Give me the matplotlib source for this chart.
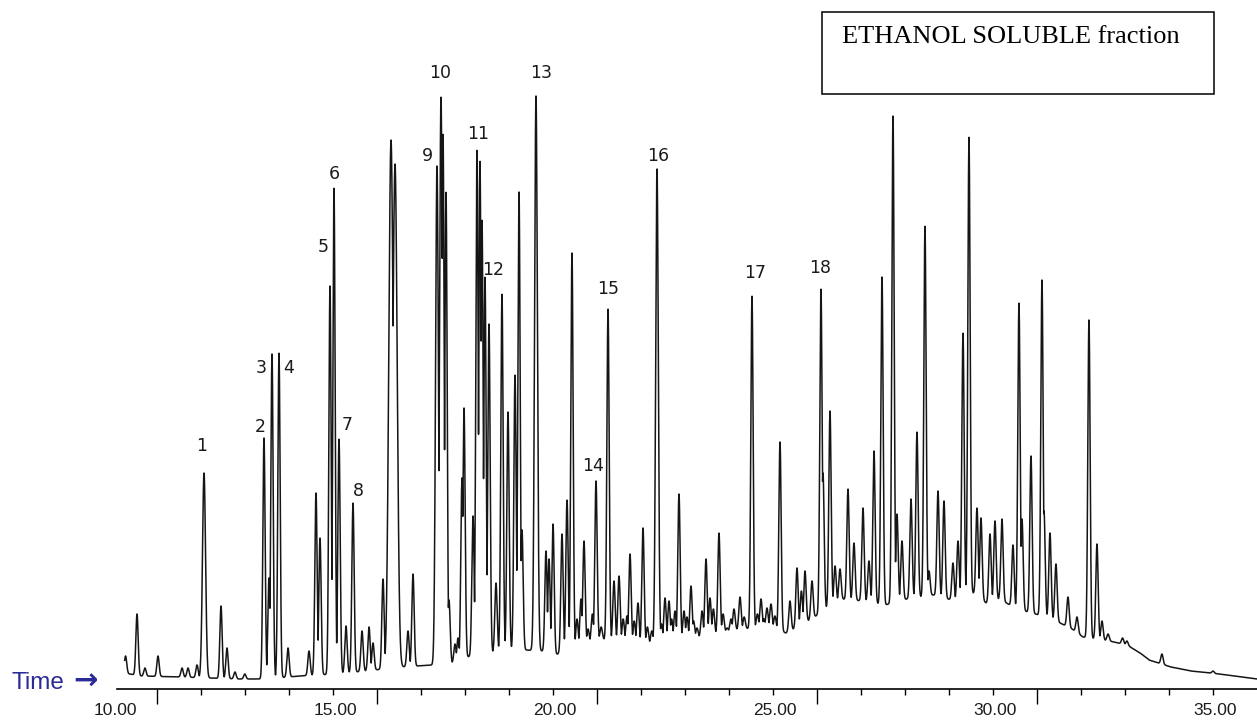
import numpy as np
import matplotlib
matplotlib.use("Agg")
import matplotlib.pyplot as plt
from matplotlib.patches import Rectangle

# Retention time (min) and apex abundance of every peak picked on the TIC trace
peak_rt = [10.24, 10.50, 10.68, 10.977, 11.523, 11.659, 11.864, 12.023, 12.409, 12.545,
           12.727, 12.95, 13.386, 13.50, 13.568, 13.727, 13.932, 14.409, 14.568, 14.659,
           14.886, 14.977, 15.091, 15.25, 15.409, 15.614, 15.773, 15.864, 16.091, 16.273,
           16.364, 16.659, 16.773, 17.318, 17.409, 17.455, 17.523, 17.591, 17.727, 17.795,
           17.886, 17.932, 18.136, 18.227, 18.295, 18.341, 18.409, 18.50, 18.659, 18.795,
           18.932, 19.091, 19.182, 19.25, 19.568, 19.795, 19.864, 19.955, 20.159, 20.273,
           20.386, 20.50, 20.591, 20.659, 20.75, 20.85, 20.932, 21.05, 21.205, 21.341,
           21.455, 21.55, 21.636, 21.705, 21.80, 21.886, 22.000, 22.10, 22.20, 22.318,
           22.42, 22.500, 22.591, 22.65, 22.727, 22.818, 22.932, 23.00, 23.091, 23.15,
           23.227, 23.341, 23.432, 23.523, 23.60, 23.727, 23.82, 23.909, 24.00, 24.068,
           24.205, 24.30, 24.477, 24.60, 24.682, 24.75, 24.818, 24.909, 25.00, 25.114,
           25.34, 25.500, 25.60, 25.682, 25.841, 26.045, 26.091, 26.250, 26.364, 26.477,
           26.659, 26.795, 27.000, 27.136, 27.250, 27.432, 27.682, 27.773, 27.886, 28.091,
           28.227, 28.409, 28.500, 28.705, 28.841, 29.045, 29.159, 29.273, 29.409, 29.591,
           29.682, 29.886, 30.000, 30.159, 30.409, 30.545, 30.614, 30.818, 31.068, 31.114,
           31.250, 31.386, 31.659, 31.864, 32.136, 32.318, 32.432, 32.57, 32.90, 33.000,
           33.27, 33.45, 33.795, 34.955]
peak_top = [33, 75, 21, 33, 21, 21, 24, 216, 83, 41,
            17, 15, 251, 111, 335, 336, 41, 38, 196, 151,
            403, 501, 250, 63, 186, 58, 62, 46, 110, 549,
            525, 58, 115, 523, 592, 555, 497, 89, 45, 51,
            211, 281, 173, 539, 528, 469, 412, 365, 106, 395,
            277, 314, 497, 159, 593, 138, 130, 165, 155, 189,
            436, 70, 90, 148, 60, 75, 208, 62, 380, 108,
            113, 70, 73, 135, 68, 86, 161, 62, 58, 520,
            65, 91, 88, 70, 78, 195, 78, 72, 103, 68,
            61, 78, 130, 91, 80, 156, 75, 61, 70, 80,
            92, 72, 393, 75, 90, 70, 81, 85, 73, 247,
            88, 121, 98, 118, 108, 400, 216, 278, 123, 120,
            200, 146, 181, 128, 238, 412, 573, 175, 148, 190,
            257, 463, 118, 198, 188, 126, 148, 356, 552, 181,
            171, 155, 168, 170, 144, 386, 170, 233, 409, 178,
            156, 125, 92, 72, 369, 145, 68, 55, 51, 48,
            35, 31, 35, 18]

# Peaks that are visibly wider than the rest (rt -> sigma in min)
wide_peaks = {12.023: 0.035, 16.273: 0.05, 16.364: 0.05, 17.318: 0.032,
              17.409: 0.032, 19.568: 0.032, 22.318: 0.03}

# Rolling baseline under the peaks (unresolved hump)
base_rt = [10.20, 10.60, 11.50, 12.80, 13.40, 14.20, 15.00, 15.70, 16.50, 17.20,
           17.70, 18.00, 19.00, 19.70, 20.00, 20.60, 21.00, 21.50, 22.10, 22.60,
           23.30, 24.20, 24.90, 25.25, 25.60, 25.90, 26.20, 26.50, 27.00, 27.50,
           28.00, 28.60, 29.10, 29.50, 29.80, 30.10, 30.50, 31.00, 31.30, 31.75,
           32.00, 32.60, 33.00, 33.30, 33.50, 34.00, 34.45, 35.10, 35.96]
base_level = [16, 13, 12, 10, 10, 13, 15, 18, 22, 24,
              26, 32, 40, 38, 34, 44, 50, 48, 45, 50,
              52, 60, 62, 56, 64, 72, 82, 90, 88, 84,
              90, 94, 88, 96, 86, 90, 80, 74, 70, 60,
              52, 48, 44, 36, 29, 22, 18, 15, 10]

# Numbered compounds and where their numbers sit
label_ids = [str(i) for i in range(1, 19)]
label_rt = [11.977, 13.295, 13.318, 13.955, 14.727, 14.977, 15.273, 15.523, 17.091,
            17.386, 18.250, 18.591, 19.682, 20.864, 21.205, 22.341, 24.545, 26.023]
label_y = [243, 262, 321, 321, 442, 515, 264, 198, 533,
           616, 555, 419, 616, 223, 400, 533, 416, 421]

tick_values = [10, 15, 20, 25, 30, 35]
tick_labels = ["10.00", "15.00", "20.00", "25.00", "30.00", "35.00"]

# Build the trace: each peak rides on the baseline, the envelope is kept
t = np.arange(10.22, 35.96, 0.002)
base = np.interp(t, base_rt, base_level)
trace = base.copy()
for rt, top in zip(peak_rt, peak_top):
    amp = top - np.interp(rt, base_rt, base_level)
    sig = wide_peaks.get(rt, 0.026)
    trace = np.maximum(trace, base + amp * np.exp(-0.5 * ((t - rt) / sig) ** 2))

fig = plt.figure(figsize=(12.57, 7.26), dpi=100)
ax = fig.add_axes([0, 37 / 726, 1, 689 / 726])
ax.plot(t, trace, color="#151515", lw=1.1)

ax.set_xlim(7.386, 35.955)
ax.set_ylim(0, 689)
for side in ["left", "right", "top"]:
    ax.spines[side].set_visible(False)
ax.spines["bottom"].set_bounds(10.05, 35.955)
ax.spines["bottom"].set_linewidth(1.2)
ax.set_yticks([])

# instrument ticks every minute, longer every five
ticks = [10.955 + k for k in range(25)]
ax.set_xticks([v for k, v in enumerate(ticks) if k % 5 == 0])
ax.set_xticks([v for k, v in enumerate(ticks) if k % 5 != 0], minor=True)
ax.tick_params(axis="x", which="major", length=10.5, width=1.0, labelbottom=False)
ax.tick_params(axis="x", which="minor", length=4.5, width=1.0, labelbottom=False)

sec = ax.secondary_xaxis("bottom")
sec.set_xticks(tick_values, labels=tick_labels)
sec.tick_params(length=0, pad=10, labelsize=12.5, labelcolor="#1c1c1c")
sec.spines["bottom"].set_visible(False)
for lab in sec.get_xticklabels():
    lab.set_family(["Liberation Sans", "DejaVu Sans"])

for name, x, y in zip(label_ids, label_rt, label_y):
    ax.text(x, y, name, ha="center", va="center", fontsize=12.5,
            color="#1a1a1a", family="DejaVu Sans")

# "Time ->" axis caption, Arial-like word with a heavy arrow
fig.text(12 / 1257, 43 / 726, "Time", ha="left", va="center", fontsize=17.5,
         color="#2b2b98", family="Liberation Sans")
fig.text(98 / 1257, 44 / 726, "\u2192", ha="right", va="center", fontsize=21,
         color="#2b2b98", family="DejaVu Sans", fontweight="bold")

box = Rectangle((822 / 1257, 632 / 726), 392 / 1257, 82 / 726, transform=fig.transFigure,
                fill=False, edgecolor="black", lw=1.1)
fig.add_artist(box)
fig.text(842 / 1257, 689 / 726, "ETHANOL SOLUBLE fraction", ha="left", va="center",
         fontsize=19, color="black", family="Liberation Serif")

fig.savefig("out.png", dpi=100)
